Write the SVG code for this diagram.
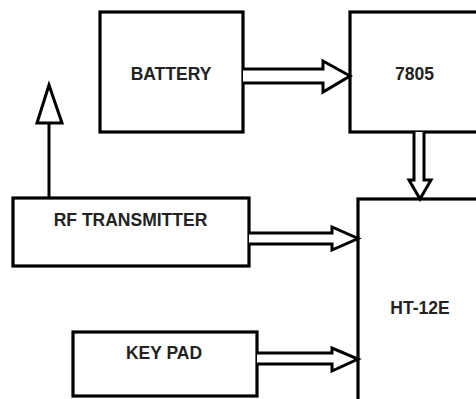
<svg xmlns="http://www.w3.org/2000/svg" width="476" height="399" viewBox="0 0 476 399">
<style>
.box{fill:#fff;stroke:#000;stroke-width:3.2}
.lbl{font-family:"Liberation Sans",Arial,sans-serif;font-weight:bold;font-size:17.5px;fill:#222;text-anchor:middle}
.arr{fill:#fff;stroke:#000;stroke-width:3;stroke-linejoin:miter}
</style>
<rect width="476" height="399" fill="#fff"/>
<g id="battery"><rect class="box" x="100" y="12" width="143" height="120"/><text class="lbl" x="171" y="80">BATTERY</text></g>
<g id="reg7805"><rect class="box" x="350" y="12" width="140" height="120"/><text class="lbl" x="414.5" y="80">7805</text></g>
<g id="rf"><rect class="box" x="13" y="198" width="236" height="68"/><text class="lbl" x="130.5" y="226">RF TRANSMITTER</text></g>
<g id="antenna"><line x1="49" y1="123" x2="49" y2="198" stroke="#000" stroke-width="3"/><polygon class="arr" points="49,85 37,123 62,123"/></g>
<g id="ht12e"><rect class="box" x="358" y="199" width="140" height="220"/><text class="lbl" x="420" y="314">HT-12E</text></g>
<g id="keypad"><rect class="box" x="73" y="332" width="184" height="64"/><text class="lbl" x="164" y="359">KEY PAD</text></g>
<g id="connectors">
<path class="arr" d="M243,69 H323 V61 L350,76 L323,92 V83 H243"/>
<path class="arr" d="M414,132 V180 H409 L420,199 L431,180 H424 V132"/>
<path class="arr" d="M249,233 H332 V227 L358,238.5 L332,250 V244 H249"/>
<path class="arr" d="M257,353 H332 V348 L358,359 L332,371 V364 H257"/>
</g>
</svg>
